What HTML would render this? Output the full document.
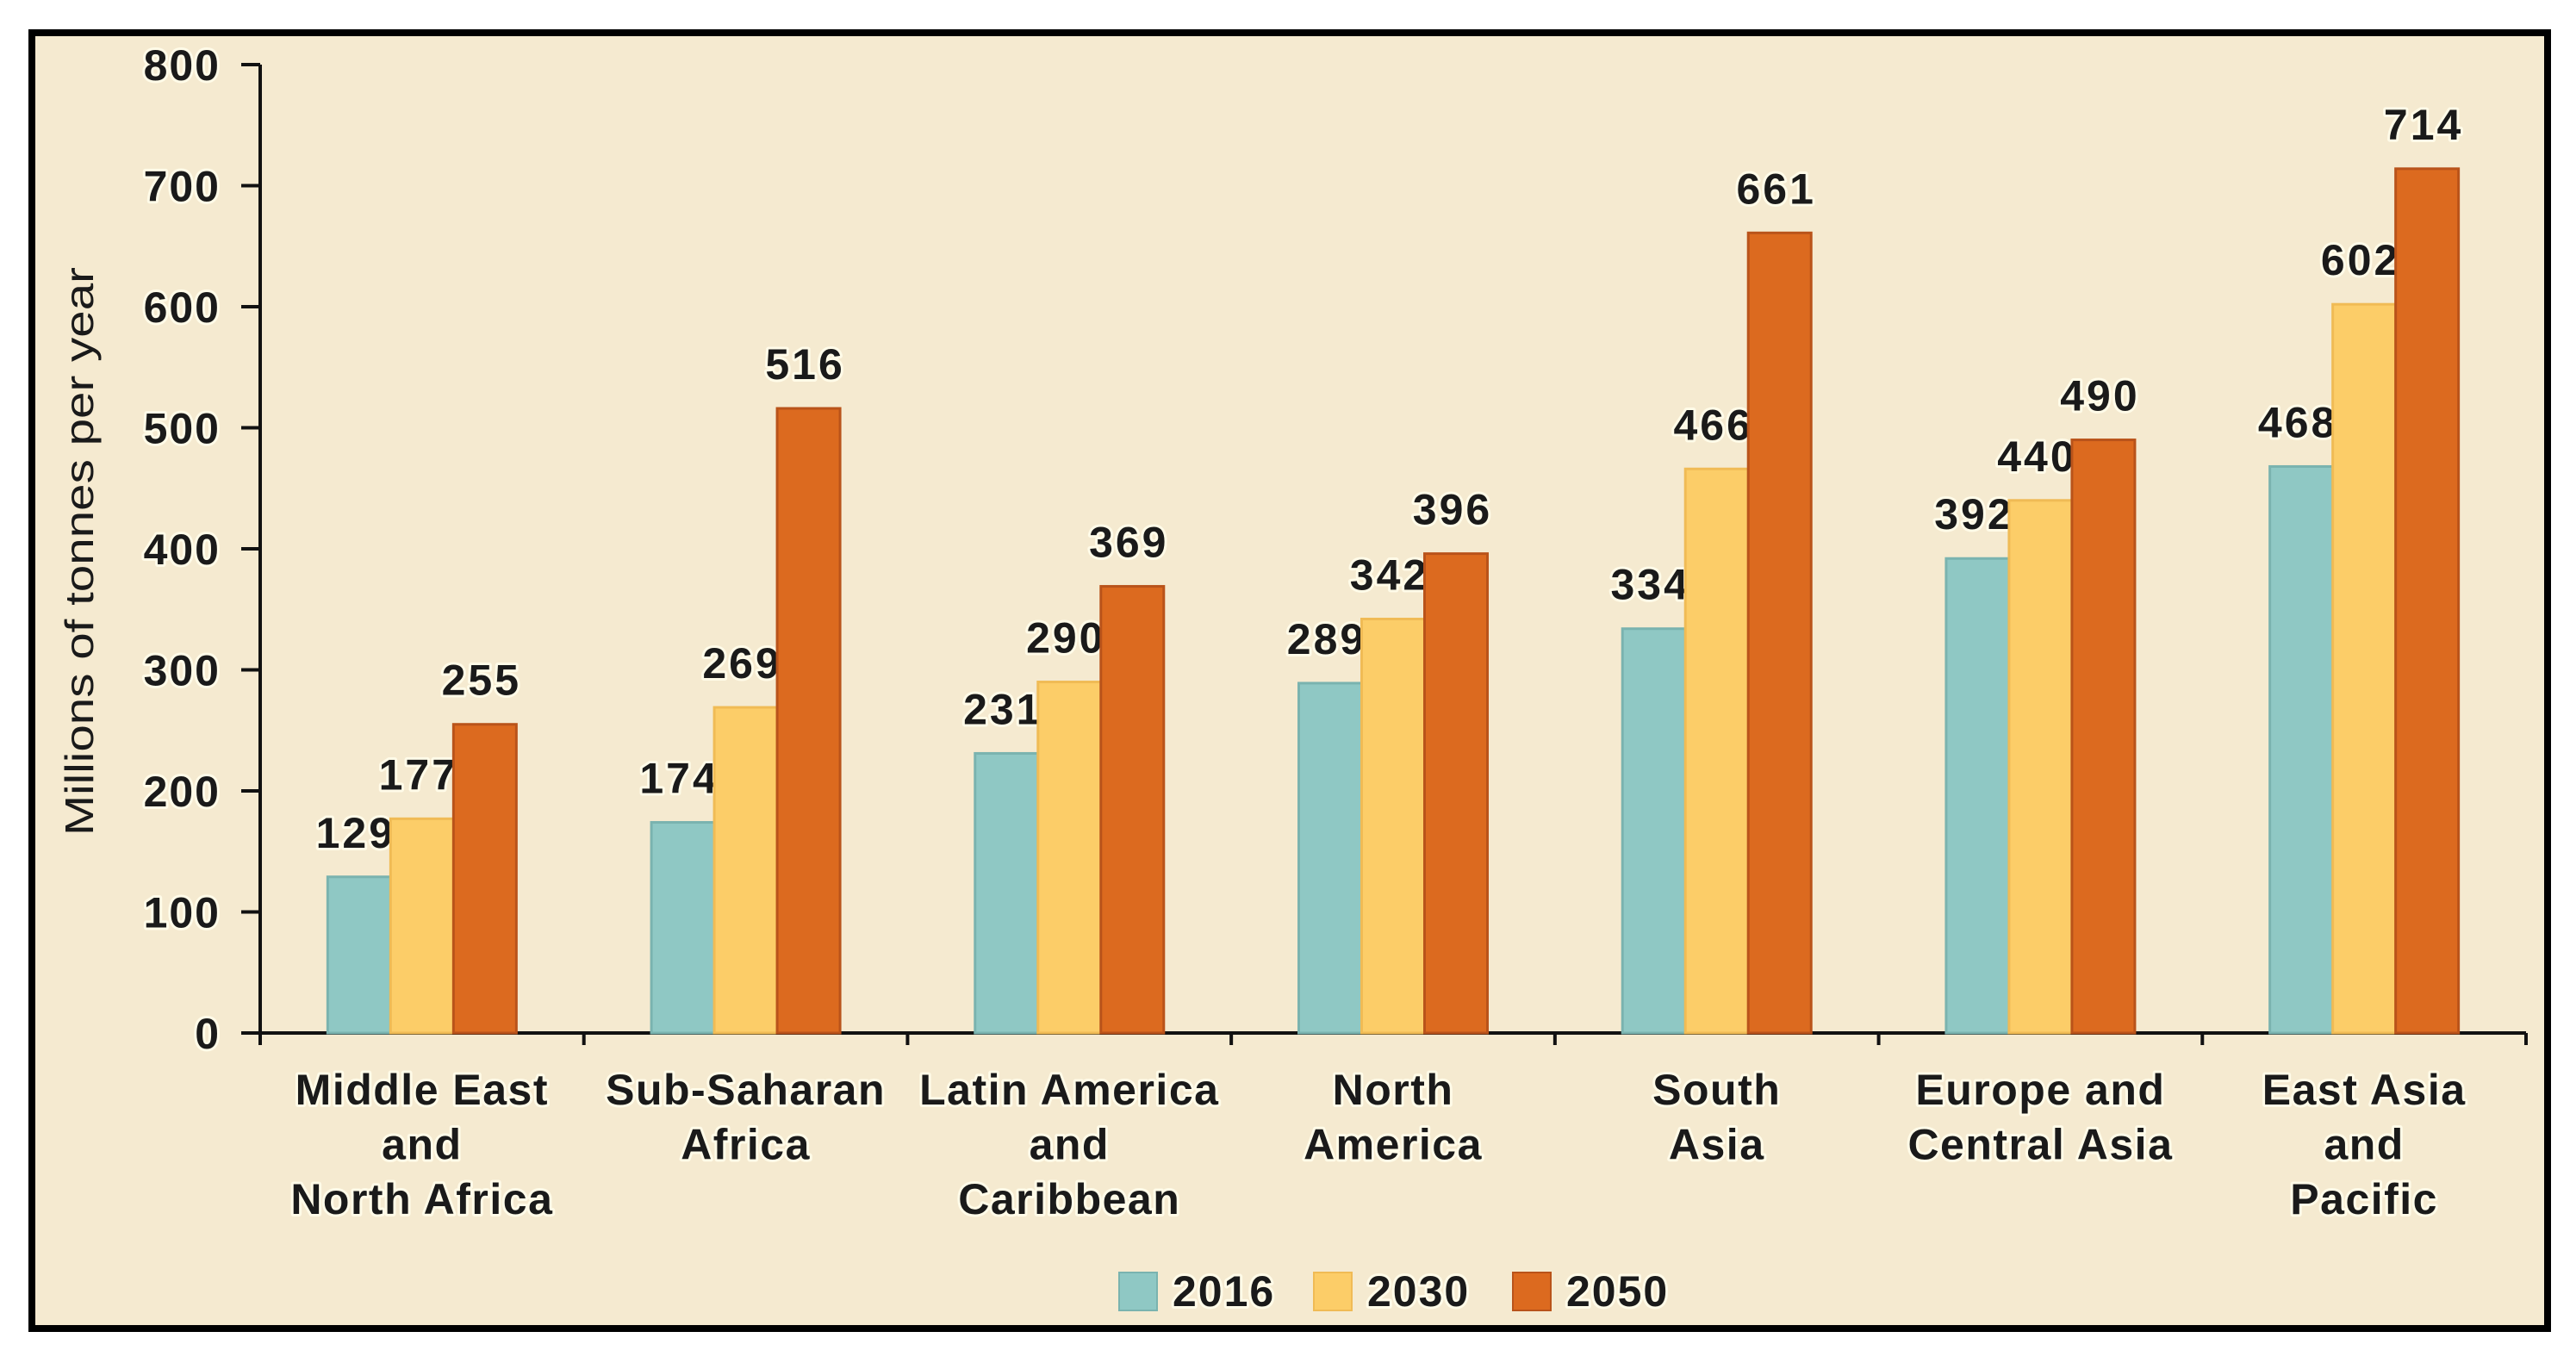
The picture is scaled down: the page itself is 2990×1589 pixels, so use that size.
<!DOCTYPE html>
<html><head><meta charset="utf-8"><style>
html,body{margin:0;padding:0;background:#fff;}
svg text{font-family:"Liberation Sans",sans-serif;fill:#1a1a1a;}
.glow{paint-order:stroke;stroke:#fffbe8;stroke-width:6px;stroke-linejoin:round;}
</style></head><body>
<svg id="chart" width="2990" height="1584" viewBox="0 0 2990 1584" xmlns="http://www.w3.org/2000/svg">
<rect x="37" y="38" width="2920" height="1504" fill="#f5ead0" stroke="#000" stroke-width="8"/>
<g id="plot"></g>
</svg>
<script>
const categories = [["Middle East","and","North Africa"],["Sub-Saharan","Africa"],["Latin America","and","Caribbean"],["North","America"],["South","Asia"],["Europe and","Central Asia"],["East Asia","and","Pacific"]];
const series2016 = [129,174,231,289,334,392,468];
const series2030 = [177,269,290,342,466,440,602];
const series2050 = [255,516,369,396,661,490,714];
const seriesNames = ["2016","2030","2050"];
const yTicks = [0,100,200,300,400,500,600,700,800];

const NS="http://www.w3.org/2000/svg";
const g=document.getElementById('plot');
const X0=302,X1=2932,Y0=1199,Y1=75,YMAX=800;
const colors=["#8fc8c4","#fccd68","#dc6a1f"];
const strokes=["#7ab3af","#f0bb55","#b9531a"];
const gw=(X1-X0)/categories.length, bw=73, pad=(gw-3*bw)/2;
function y(v){return Y0-(v/YMAX)*(Y0-Y1);}
function mk(t,a,p){const e=document.createElementNS(NS,t);for(const k in a)e.setAttribute(k,a[k]);(p||g).appendChild(e);return e;}
let ax=mk('line',{x1:X0,y1:Y1,x2:X0,y2:Y0+12,stroke:'#111','stroke-width':4});


yTicks.forEach(v=>{
  const t=mk('line',{x1:X0-22,y1:y(v),x2:X0,y2:y(v),stroke:'#111','stroke-width':4});
  
  
  const l=mk('text',{x:X0-46,y:y(v)+18,'text-anchor':'end','font-size':50,'font-weight':'bold','letter-spacing':2,class:'glow'});
  l.textContent=v;
  
  
});
const yt=mk('text',{transform:'translate(108,640) rotate(-90)','text-anchor':'middle','font-size':46,textLength:660,lengthAdjust:'spacingAndGlyphs'});
yt.textContent='Millions of tonnes per year';


const xa=mk('line',{x1:X0,y1:Y0,x2:X1,y2:Y0,stroke:'#111','stroke-width':4});


for(let i=0;i<=categories.length;i++){
  const t=mk('line',{x1:X0+i*gw,y1:Y0,x2:X0+i*gw,y2:Y0+14,stroke:'#111','stroke-width':4});
  
  
}
const all=[series2016,series2030,series2050];
categories.forEach((c,i)=>{
  all.forEach((s,j)=>{
    const bx=X0+i*gw+pad+j*bw, v=s[i];
    const r=mk('rect',{x:bx,y:y(v),width:bw,height:Y0-y(v),fill:colors[j],stroke:strokes[j],'stroke-width':3});
    
    
    const l=mk('text',{x:bx+bw/2-4,y:y(v)-34,'text-anchor':'middle','font-size':50,'font-weight':'bold','letter-spacing':3,class:'glow'});
    l.textContent=v;
    
    
  });
  const cx=X0+i*gw+gw/2;
  c.forEach((line,k)=>{
    const t=mk('text',{x:cx,y:1282+k*63.5,'text-anchor':'middle','font-size':50,'font-weight':'bold','letter-spacing':1.5,class:'glow'});
    t.textContent=line;
    
    
  });
});
const lx=[1299,1525,1756];
seriesNames.forEach((n,j)=>{
  const r=mk('rect',{x:lx[j],y:1477,width:44,height:44,fill:colors[j],stroke:strokes[j],'stroke-width':2});
  
  
  const t=mk('text',{x:lx[j]+62,y:1516,'font-size':50,'font-weight':'bold','letter-spacing':2,class:'glow'});
  t.textContent=n;
  
  
});
</script>
</body></html>
